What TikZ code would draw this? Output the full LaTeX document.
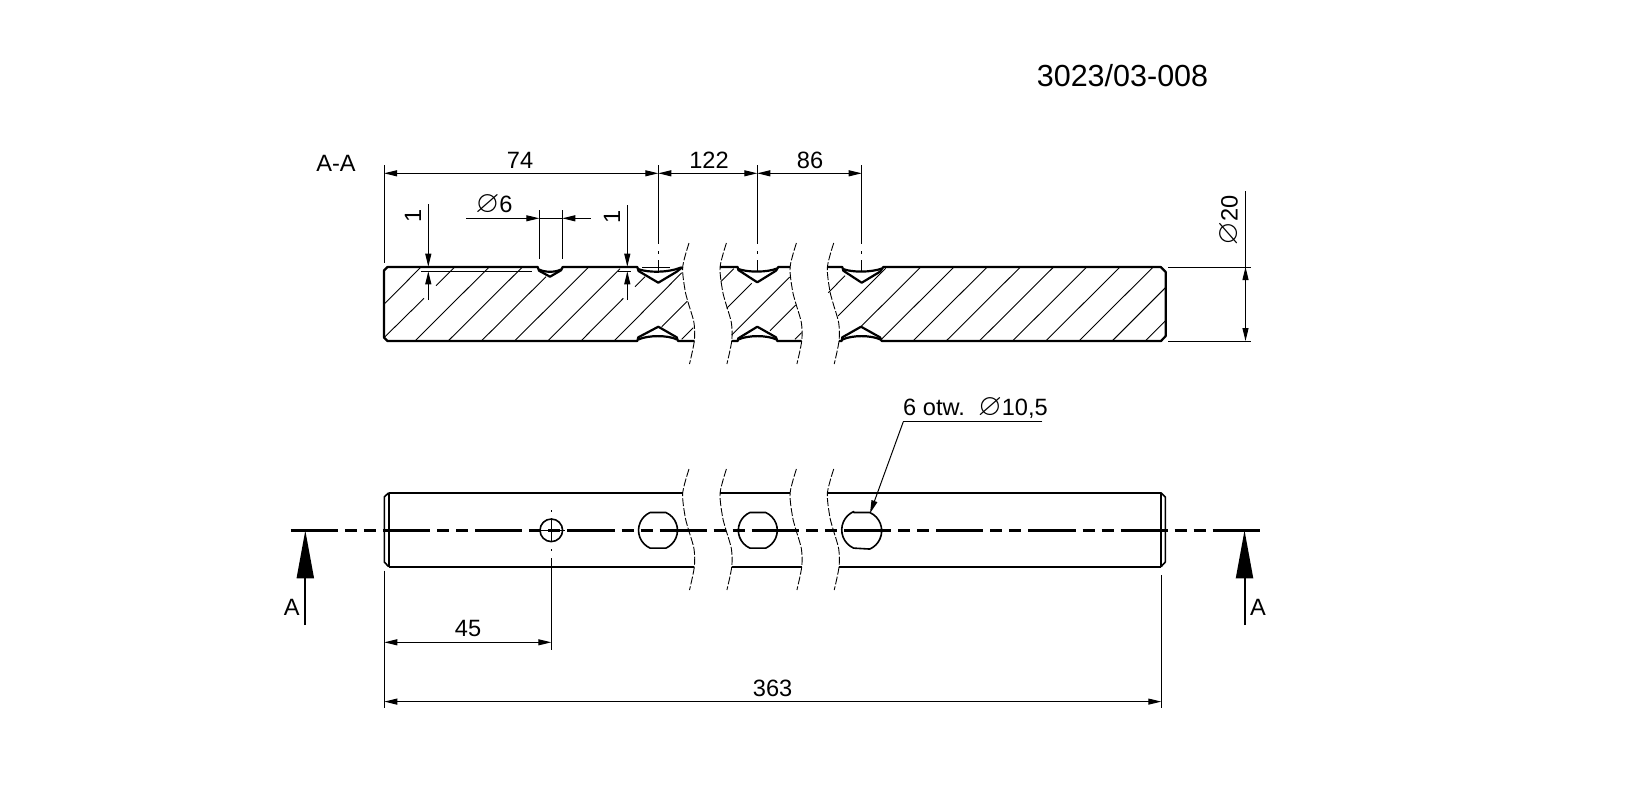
\documentclass[tikz,border=0pt]{standalone}
\usepackage{amssymb}
\usepackage{fontspec}
\setmainfont{Liberation Sans}
\usetikzlibrary{arrows.meta}
\newcommand{\dia}{\scalebox{1.3}{$\varnothing$}}
\begin{document}
\begin{tikzpicture}[line join=round,>={Triangle[length=6.5pt,width=3pt]},x=0.5pt,y=-0.5pt,
outline/.style={line width=1.1pt},
holeline/.style={line width=0.8pt},
fineline/.style={line width=0.5pt},
hatchline/.style={line width=0.45pt},
brkline/.style={line width=0.45pt,dash pattern=on 4pt off 1pt},
cutline/.style={line width=1.4pt,dash pattern=on 23.6pt off 3.5pt on 6pt off 3.5pt on 6pt off 3.5pt},
cutarrow/.style={line width=1pt,-{Triangle[length=24pt,width=8.5pt]}},
dimtext/.style={anchor=base,inner sep=0pt,font=\fontsize{11.8pt}{14pt}\selectfont},
dimturn/.style={anchor=center,inner sep=0pt,rotate=90,font=\fontsize{11.8pt}{14pt}\selectfont}]
\clip(0,0) rectangle (1636,799);
\draw (1122.5,86) node[anchor=base,inner sep=0pt,font=\fontsize{15.25pt}{18pt}\selectfont] (drawingNo) {3023/03-008};
\draw (336,171.7) node[dimtext] (viewAA) {A-A};
\draw [outline] (694.3,341)-- (678,341)-- (676.7,337.3)-- (658.3,326.7)-- (638.3,337.3)-- (637.3,341)-- (387.5,341)-- (384,337.5)-- (384,270.5)-- (387.5,267)-- (537.7,267)-- (539,270.7)-- (550,276.7)-- (561,270.3)-- (562.7,267)-- (637.3,267)-- (638.5,271)-- (658.3,282.7)-- (676.7,271.7)-- (682.7,267);
\draw [outline] (720.1,267)-- (737.7,267)-- (738.3,270)-- (757.3,282.3)-- (776,270.7)-- (778.3,267)-- (790.1,267);
\draw [outline] (731.7,341)-- (737.7,341)-- (738.3,338.3)-- (757.3,326.7)-- (776,337.3)-- (777.3,341)-- (801.7,341);
\draw [outline] (827.4,267)-- (842.3,267)-- (843.3,270.7)-- (861.7,282.7)-- (880,271.7)-- (883.3,267)-- (1160.7,267)-- (1165.7,272)-- (1165.7,336)-- (1161,341)-- (881.7,341)-- (880,337.3)-- (861,326.7)-- (842.3,337.3)-- (841.7,341)-- (839,341);
\draw [outline] (539,269.5) .. controls (545,272.5) and (555,272.5) .. (561,269.5);
\draw [outline] (638,269) .. controls (648,272.8) and (668,272.8) .. (681,267.5);
\draw [outline] (738.3,269) .. controls (748,272.5) and (767,272.5) .. (777,268.5);
\draw [outline] (843,269) .. controls (852,272.5) and (871,272.5) .. (882,268.5);
\draw [outline] (638.3,339.5) .. controls (648,335) and (668,335) .. (677,339.5);
\draw [outline] (738.3,339.5) .. controls (748,335) and (767,335) .. (776.5,339.5);
\draw [outline] (842.5,339.5) .. controls (852,335) and (871,335) .. (880.5,339.5);
\draw [hatchline] (385,303.3)-- (421,267);
\draw [hatchline] (385,336.7)-- (424,298.3);
\draw [hatchline] (436,285.7)-- (454.7,267);
\draw [hatchline] (415.2,340.7)-- (489.2,267);
\draw [hatchline] (448.4,340.7)-- (522.4,267);
\draw [hatchline] (481.6,340.7)-- (546,276.7);
\draw [hatchline] (514.8,340.7)-- (588.8,267);
\draw [hatchline] (548,340.7)-- (620,268.7);
\draw [hatchline] (581.2,340.7)-- (623.3,298.3);
\draw [hatchline] (635,286.7)-- (645,276.7);
\draw [hatchline] (614.4,340.7)-- (681.7,272.8);
\draw [hatchline] (661.7,326.7)-- (687.3,301.2);
\draw [hatchline] (681.7,339.3)-- (693.3,327.7);
\draw [hatchline] (720.7,281.7)-- (733.7,268.7);
\draw [hatchline] (726.7,308.3)-- (751.7,283.3);
\draw [hatchline] (731.7,335)-- (789.7,277);
\draw [hatchline] (770,330.7)-- (795.7,305);
\draw [hatchline] (795,339.3)-- (801.7,332.6);
\draw [hatchline] (828.3,292.7)-- (845,275.7);
\draw [hatchline] (838,316)-- (885.7,268.3);
\draw [hatchline] (860.5,327)-- (920.8,267);
\draw [hatchline] (880,340.7)-- (954,267);
\draw [hatchline] (913.2,340.7)-- (987.2,267);
\draw [hatchline] (946.4,340.7)-- (1020.4,267);
\draw [hatchline] (979.6,340.7)-- (1053.6,267);
\draw [hatchline] (1012.8,340.7)-- (1086.8,267);
\draw [hatchline] (1046,340.7)-- (1120,267);
\draw [hatchline] (1079.2,340.7)-- (1153.2,267);
\draw [hatchline] (1112.4,340.7)-- (1165.7,287.4);
\draw [hatchline] (1145.6,340.7)-- (1165.7,320.6);
\draw [brkline] plot [smooth] coordinates {(689,243) (682.7,267) (685,290) (688.3,303) (694,323) (694.3,341) (689.5,364)};
\draw [brkline] plot [smooth] coordinates {(726.4,243) (720.1,267) (722.4,290) (725.7,303) (731.4,323) (731.7,341) (726.9,364)};
\draw [brkline] plot [smooth] coordinates {(796.4,243) (790.1,267) (792.4,290) (795.7,303) (801.4,323) (801.7,341) (796.9,364)};
\draw [brkline] plot [smooth] coordinates {(833.7,243) (827.4,267) (829.7,290) (833,303) (838.7,323) (839,341) (834.2,364)};
\draw [fineline] (384,165)-- (384,262.7);
\draw [fineline] (658.3,165)-- (658.3,244.3);
\draw [fineline] (658.3,251)-- (658.3,254);
\draw [fineline] (658.3,260)-- (658.3,271.7);
\draw [fineline] (757.3,165)-- (757.3,244.3);
\draw [fineline] (757.3,251)-- (757.3,254);
\draw [fineline] (757.3,260)-- (757.3,271.7);
\draw [fineline] (861.7,165)-- (861.7,244.3);
\draw [fineline] (861.7,251)-- (861.7,254);
\draw [fineline] (861.7,260)-- (861.7,271.7);
\draw [fineline,<->] (384,173.3)-- (658.3,173.3);
\draw [fineline,<->] (658.3,173.3)-- (757.3,173.3);
\draw [fineline,<->] (757.3,173.3)-- (861.7,173.3);
\draw (520,168.3) node[dimtext] (lenFirst) {74};
\draw (709,168.3) node[dimtext] (lenSecond) {122};
\draw (810,168.3) node[dimtext] (lenThird) {86};
\draw [fineline] (539.3,210)-- (539.3,259.3);
\draw [fineline] (562.3,210)-- (562.3,259.3);
\draw [fineline,->] (466,218.3)-- (539.3,218.3);
\draw [fineline,->] (590.7,218.3)-- (562.3,218.3);
\draw [fineline] (539.3,218.3)-- (562.3,218.3);
\draw (494,212.7) node[dimtext] (diaSmall) {\dia 6};
\draw [fineline,->] (428.3,204)-- (428.3,266.7);
\draw [fineline,->] (428.3,300)-- (428.3,271.3);
\draw [fineline] (421,271.3)-- (531.7,271.3);
\draw (413,216) node[dimturn] (depthLeft) {1};
\draw [fineline,->] (627.3,205)-- (627.3,266.7);
\draw [fineline,->] (627.3,300)-- (627.3,271.3);
\draw [fineline] (618,271.3)-- (631,271.3);
\draw [fineline] (642,267.5)-- (670,267.5);
\draw (612,217) node[dimturn] (depthRight) {1};
\draw [fineline] (1168,267)-- (1250.7,267);
\draw [fineline] (1168,341)-- (1250.7,341);
\draw [fineline] (1245.5,191)-- (1245.5,267);
\draw [fineline,<->] (1245.5,267)-- (1245.5,341);
\draw (1230,220) node[dimturn] (diaShaft) {\dia 20};
\draw [outline] (388.7,492.7)-- (683.3,492.7);
\draw [outline] (720,492.7)-- (790,492.7);
\draw [outline] (826.7,492.7)-- (1161,492.7);
\draw [outline] (388.7,566.7)-- (694.3,566.7);
\draw [outline] (731.7,566.7)-- (801.7,566.7);
\draw [outline] (839,566.7)-- (1161,566.7);
\draw [holeline] (388.7,492.7)-- (388.7,566.7);
\draw [holeline] (388.7,492.7)-- (384.3,497)-- (384.3,562)-- (388.7,566.7);
\draw [holeline] (1161,492.7)-- (1161,566.7);
\draw [holeline] (1161,492.7)-- (1165.3,497)-- (1165.3,562)-- (1161,566.7);
\draw [brkline] plot [smooth] coordinates {(689,469) (682.7,493) (685,516) (688.3,529) (694,549) (694.3,567) (689.5,590)};
\draw [brkline] plot [smooth] coordinates {(726.4,469) (720.1,493) (722.4,516) (725.7,529) (731.4,549) (731.7,567) (726.9,590)};
\draw [brkline] plot [smooth] coordinates {(796.4,469) (790.1,493) (792.4,516) (795.7,529) (801.4,549) (801.7,567) (796.9,590)};
\draw [brkline] plot [smooth] coordinates {(833.7,469) (827.4,493) (829.7,516) (833,529) (838.7,549) (839,567) (834.2,590)};
\draw [holeline] (551.3,530.3) circle (11.3);
\draw [holeline] (650.1,512.5)-- (665.9,512.5) arc [start angle=-66,end angle=66,radius=19.5]-- (650.1,548.1) arc [start angle=114,end angle=246,radius=19.5]-- cycle;
\draw [holeline] (749.9,512.5)-- (765.7,512.5) arc [start angle=-66,end angle=66,radius=19.5]-- (749.9,548.1) arc [start angle=114,end angle=246,radius=19.5]-- cycle;
\draw [holeline] (853.6,512.5)-- (869.8,512.5) arc [start angle=-66,end angle=66,radius=20]-- (853.6,548.1) arc [start angle=114,end angle=246,radius=20]-- cycle;
\draw [fineline] (551.3,510)-- (551.3,512);
\draw [fineline] (551.3,518)-- (551.3,541.6);
\draw [fineline] (551.3,549)-- (551.3,551);
\draw [fineline] (551.3,558)-- (551.3,650);
\draw [fineline] (538,530.3)-- (565,530.3);
\draw [cutline] (290.7,530.3)-- (1261,530.3);
\draw [cutarrow] (305.3,625)-- (305.3,530.3);
\draw [cutarrow] (1244.5,625)-- (1244.5,530.3);
\draw (291.7,615.7) node[dimtext] (cutLeft) {A};
\draw (1258,615.7) node[dimtext] (cutRight) {A};
\draw [fineline] (384.3,570.7)-- (384.3,708);
\draw [fineline] (1161.3,575)-- (1161.3,708);
\draw [fineline,<->] (384.3,642.3)-- (551.3,642.3);
\draw (468,636.7) node[dimtext] (lenHole) {45};
\draw [fineline,<->] (384.3,701.6)-- (1161.3,701.6);
\draw (772.6,696) node[dimtext] (lenTotal) {363};
\draw (975.5,415) node[dimtext] (holeNote) {6 otw.\ \ \dia 10,5};
\draw [fineline] (1042.3,421.7)-- (903.3,421.7);
\draw [fineline,->] (903.3,421.7)-- (870,513.3);
\end{tikzpicture}
\end{document}
